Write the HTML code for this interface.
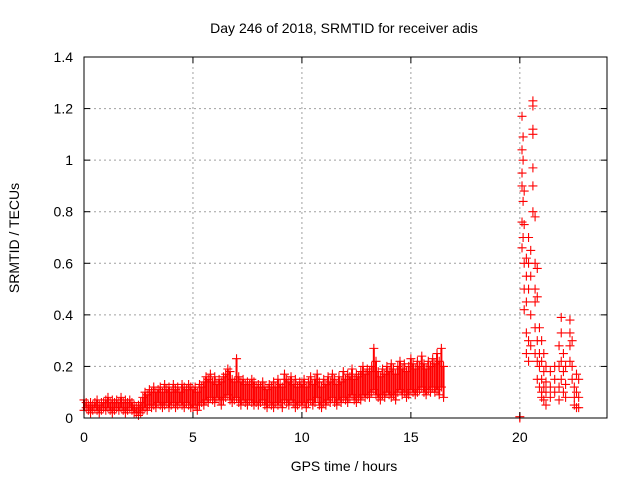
<!DOCTYPE html>
<html><head><meta charset="utf-8"><style>
body{margin:0;background:#fff}
svg text{font-family:"Liberation Sans",sans-serif;font-size:14px;fill:#000}
</style></head><body>
<svg id="chart" width="640" height="480" viewBox="0 0 640 480" xmlns="http://www.w3.org/2000/svg">
<rect width="640" height="480" fill="#fff"/>
<text x="344" y="33" text-anchor="middle">Day 246 of 2018, SRMTID for receiver adis</text>
<text x="344" y="471" text-anchor="middle">GPS time / hours</text>
<text transform="translate(19,238) rotate(-90)" text-anchor="middle">SRMTID / TECUs</text>
<g id="grid"></g><g id="marks"></g><g id="axes"></g>
</svg>
<script>
const xTicks=[0,5,10,15,20];
const yTicks=[0,0.2,0.4,0.6,0.8,1,1.2,1.4];
const yTickLabels=["0","0.2","0.4","0.6","0.8","1","1.2","1.4"];
const earlyUpper=[0.07,0.06,0.05,0.06,0.05,0.06,0.07,0.05,0.06,0.06,0.07,0.08,0.06,0.07,0.06,0.07,0.06,0.08,0.06,0.07,0.06,0.07,0.06,0.05,0.04,
0.05,0.06,0.08,0.10,0.09,0.11,0.10,0.12,0.10,0.11,0.12,0.10,0.13,0.11,0.12,0.10,0.13,0.11,0.12,0.10,0.13,0.12,0.11,0.13,0.12,
0.11,0.12,0.10,0.13,0.12,0.14,0.16,0.15,0.17,0.14,0.16,0.13,0.15,0.14,0.16,0.17,0.19,0.18,0.15,0.14,0.23,0.16,0.14,0.15,0.13,0.14,0.13,0.15,0.14,0.12,
0.13,0.12,0.14,0.12,0.11,0.13,0.12,0.14,0.12,0.15,0.13,0.12,0.17,0.15,0.14,0.16,0.13,0.15,0.12,0.14,
0.13,0.15,0.12,0.14,0.16,0.13,0.15,0.17,0.14,0.12,0.15,0.13,0.16,0.14,0.17,0.15,0.13,0.16,0.14,0.18,0.15,0.17,0.16,0.19,0.15,0.17,0.16,0.18,0.20,0.17,
0.19,0.18,0.20,0.27,0.22,0.18,0.16,0.19,0.17,0.20,0.18,0.21,0.19,0.17,0.20,0.22,0.19,0.21,0.18,0.20,0.23,0.21,0.19,0.22,0.20,0.24,0.21,0.19,0.22,0.20,0.23,0.21,0.25,0.22,0.27,0.20];
const earlyLower=[0.03,0.04,0.03,0.02,0.03,0.04,0.03,0.02,0.03,0.04,0.03,0.04,0.03,0.02,0.03,0.04,0.03,0.04,0.03,0.02,0.03,0.04,0.03,0.02,0.02,
0.01,0.02,0.03,0.04,0.03,0.05,0.04,0.05,0.04,0.06,0.05,0.04,0.05,0.06,0.04,0.05,0.06,0.04,0.05,0.06,0.05,0.04,0.06,0.05,0.04,
0.04,0.05,0.03,0.05,0.06,0.05,0.07,0.06,0.08,0.07,0.06,0.08,0.07,0.05,0.07,0.08,0.09,0.07,0.06,0.07,0.08,0.06,0.05,0.07,0.06,0.05,0.07,0.06,0.05,0.06,
0.05,0.06,0.07,0.05,0.04,0.06,0.05,0.04,0.06,0.05,0.06,0.04,0.07,0.06,0.05,0.07,0.06,0.04,0.05,0.06,
0.05,0.06,0.04,0.06,0.07,0.05,0.06,0.08,0.05,0.04,0.06,0.05,0.07,0.06,0.08,0.06,0.05,0.07,0.06,0.08,0.07,0.06,0.08,0.09,0.07,0.06,0.08,0.07,0.09,0.08,
0.09,0.08,0.10,0.11,0.09,0.08,0.07,0.09,0.08,0.10,0.09,0.08,0.09,0.07,0.10,0.11,0.09,0.10,0.08,0.09,0.11,0.10,0.09,0.10,0.11,0.12,0.10,0.09,0.11,0.10,0.12,0.10,0.11,0.09,0.12,0.08];
const lateTimes=[20,20,20.1,20.1,20.1,20.1,20.1,20.1,20.15,20.15,20.15,20.15,20.2,20.2,20.2,20.2,20.2,20.3,20.3,20.3,20.3,20.3,20.4,20.4,20.4,20.4,20.4,20.5,20.5,20.5,20.5,20.6,20.6,20.6,20.6,20.6,20.6,20.6,20.7,20.7,20.7,20.7,20.7,20.7,20.8,20.8,20.8,20.8,20.8,20.9,20.9,20.9,20.9,21,21,21,21,21,21.1,21.1,21.1,21.1,21.2,21.2,21.2,21.2,21.4,21.4,21.4,21.6,21.6,21.6,21.8,21.8,21.8,21.8,21.9,21.9,21.9,21.9,22,22,22,22.1,22.1,22.1,22.3,22.3,22.3,22.3,22.4,22.4,22.4,22.5,22.5,22.5,22.6,22.6,22.6,22.7,22.7,22.7];
const lateValues=[0,0.005,0.76,0.9,1.04,1.17,0.66,0.95,0.84,1.0,0.7,1.09,0.6,0.5,0.42,0.75,0.88,0.55,0.45,0.33,0.62,0.25,0.5,0.3,0.6,0.7,0.22,0.55,0.4,0.28,0.65,1.23,1.21,1.1,1.12,0.9,0.8,0.97,0.78,0.6,0.45,0.35,0.5,0.25,0.58,0.47,0.3,0.22,0.15,0.35,0.25,0.2,0.12,0.3,0.22,0.15,0.1,0.08,0.25,0.18,0.12,0.07,0.2,0.14,0.1,0.05,0.18,0.12,0.08,0.15,0.1,0.2,0.28,0.2,0.12,0.07,0.39,0.33,0.22,0.15,0.25,0.18,0.1,0.2,0.13,0.08,0.38,0.33,0.28,0.22,0.3,0.2,0.15,0.12,0.08,0.05,0.17,0.1,0.04,0.15,0.08,0.04];
const earlyStart=0, earlyStep=0.1;

const L=84,R=607,T=57,B=418,xMax=24,yMax=1.4;
const sx=v=>L+(R-L)*v/xMax, sy=v=>B-(B-T)*v/yMax;
const NS="http://www.w3.org/2000/svg";
function mk(tag,parent,attrs){const e=document.createElementNS(NS,tag);for(const k in attrs)e.setAttribute(k,attrs[k]);parent.appendChild(e);return e;}
const grid=document.getElementById('grid'),marks=document.getElementById('marks'),axes=document.getElementById('axes');
xTicks.forEach(t=>{const x=sx(t);
 if(t>0){const g=mk('line',grid,{x1:x,x2:x,y1:T,y2:B,stroke:'#a0a0a0','stroke-dasharray':'2,3'});
 
 }
 mk('line',axes,{x1:x,x2:x,y1:B,y2:B-6,stroke:'#000'});
 mk('line',axes,{x1:x,x2:x,y1:T,y2:T+6,stroke:'#000'});
 const tx=mk('text',axes,{x:x,y:B+24,'text-anchor':'middle'});tx.textContent=t;
 
 
});
yTicks.forEach((t,i)=>{const y=sy(t);
 if(t>0&&t<yMax){const g=mk('line',grid,{x1:L,x2:R,y1:y,y2:y,stroke:'#a0a0a0','stroke-dasharray':'2,3'});
 
 }
 mk('line',axes,{x1:L,x2:L+6,y1:y,y2:y,stroke:'#000'});
 mk('line',axes,{x1:R,x2:R-6,y1:y,y2:y,stroke:'#000'});
 const tx=mk('text',axes,{x:L-11,y:y+5,'text-anchor':'end'});tx.textContent=yTickLabels[i];
 
 
});
const border=mk('rect',axes,{x:L,y:T,width:R-L,height:B-T,fill:'none',stroke:'#000'});


function plus(x,y){const p=mk('path',marks,{d:`M${x-4.5},${y}h9M${x},${y-4.5}v9`,stroke:'#f00','stroke-width':1.1,fill:'none'});
 
 }
earlyUpper.forEach((u,i)=>{const t=earlyStart+i*earlyStep,x=sx(t);
 const b=mk('line',marks,{x1:x,x2:x,y1:sy(u),y2:sy(earlyLower[i]),stroke:'#f00','stroke-width':2});
 
 
 plus(x,sy(u));plus(x,sy(earlyLower[i]));});
lateTimes.forEach((t,i)=>plus(sx(t),sy(lateValues[i])));
</script>
</body></html>
